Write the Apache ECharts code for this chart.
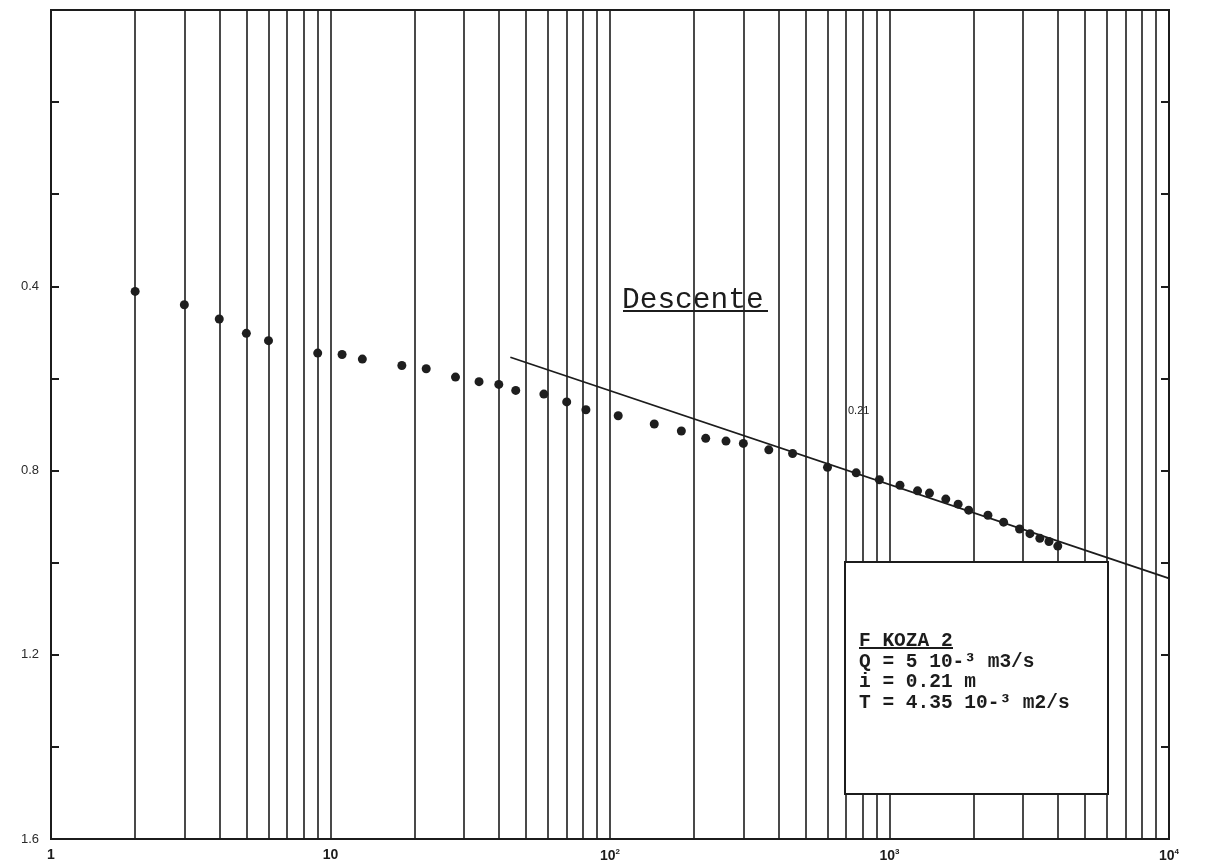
<!DOCTYPE html>
<html>
<head>
<meta charset="utf-8">
<title>Descente - F KOZA 2</title>
<script src="https://cdn.jsdelivr.net/npm/echarts@6/dist/echarts.min.js"></script>
<style>
  html, body { margin: 0; padding: 0; background: #fff; }
  #chart { width: 1208px; height: 868px; }
</style>
</head>
<body>
<div id="chart"></div>
<script>
// temps (abscisse log) et rabattements (m)
var times = [2, 3, 4, 5, 6, 9, 11, 13, 18, 22, 28, 34, 40, 46, 58, 70, 82,
  107, 144, 180, 220, 260, 300, 370, 450, 600, 760, 920,
  1090, 1260, 1390, 1590, 1760, 1920, 2250, 2560, 2920, 3180, 3450, 3720, 4000]
var drawdown = [0.411, 0.440, 0.471, 0.502, 0.518, 0.545, 0.548, 0.558, 0.572, 0.579, 0.597, 0.607, 0.613, 0.626, 0.634, 0.651, 0.668,
  0.681, 0.699, 0.714, 0.730, 0.736, 0.741, 0.755, 0.763, 0.793, 0.805, 0.820,
  0.832, 0.844, 0.849, 0.862, 0.873, 0.886, 0.897, 0.912, 0.927, 0.937, 0.947, 0.954, 0.964]

// droite de Jacob
var fitX = [44, 10000]
var fitY = [0.554, 1.034]

// graduations
var decades = [1, 10, 100, 1000]
var minorSteps = [2, 3, 4, 5, 6, 7, 8, 9]
var xTickLabels = { 1: '{n|1}', 10: '{n|10}', 100: '{n|10}{s|2}', 1000: '{n|10}{s|3}', 10000: '{n|10}{s|4}' }
var yTickLabels = ['0.4', '0.8', '1.2', '1.6']

var ink = '#1c1c1c'

var points = times.map(function(t, i) { return [t, drawdown[i]] })
var fitLine = fitX.map(function(x, i) { return [x, fitY[i]] })

var vLines = []
decades.forEach(function(d) {
  if (d > 1) vLines.push({ xAxis: d })
  minorSteps.forEach(function(m) { vLines.push({ xAxis: d * m }) })
})

var chart = echarts.init(document.getElementById('chart'))

var yAxisBase = {
  type: 'value',
  min: -0.2,
  max: 1.6,
  interval: 0.2,
  inverse: true,
  splitLine: { show: false },
  axisLine: { show: true, lineStyle: { color: ink, width: 2 } },
  axisTick: { show: true, inside: true, length: 8, lineStyle: { color: ink, width: 2 } }
}

var option = {
  backgroundColor: '#fff',
  animation: false,
  grid: {
    left: 51, right: 39, top: 10, bottom: 29,
    show: true, borderColor: ink, borderWidth: 2, backgroundColor: 'transparent'
  },
  xAxis: {
    type: 'log',
    logBase: 10,
    min: 1,
    max: 10000,
    splitNumber: 4,
    axisLine: { show: true, onZero: false, lineStyle: { color: ink, width: 2 } },
    axisTick: { show: false },
    splitLine: { show: false },
    axisLabel: {
      margin: 9,
      formatter: function(v) {
        var k = Math.round(v)
        return xTickLabels[k] || ''
      },
      rich: {
        n: { fontFamily: 'Liberation Sans', fontSize: 14, fontWeight: 'bold', color: ink },
        s: { fontFamily: 'Liberation Sans', fontSize: 8, fontWeight: 'bold', color: ink, verticalAlign: 'top', padding: [0, 0, 8, 0] }
      }
    }
  },
  yAxis: [
    Object.assign({}, yAxisBase, {
      position: 'left',
      axisLabel: {
        margin: 12,
        fontFamily: 'Liberation Sans',
        fontSize: 13,
        color: '#2a2a2a',
        formatter: function(v) {
          var s = v.toFixed(1)
          return yTickLabels.indexOf(s) >= 0 ? s : ''
        }
      }
    }),
    Object.assign({}, yAxisBase, {
      position: 'right',
      axisLabel: { show: false }
    })
  ],
  series: [
    {
      // lignes verticales du papier semi-log
      type: 'line',
      data: [],
      z: 1,
      silent: true,
      markLine: {
        silent: true,
        symbol: ['none', 'none'],
        label: { show: false },
        lineStyle: { color: ink, width: 1.6, type: 'solid', opacity: 1 },
        data: vLines
      }
    },
    {
      type: 'line',
      data: fitLine,
      z: 3,
      symbol: 'none',
      silent: true,
      lineStyle: { color: ink, width: 1.8 }
    },
    {
      type: 'scatter',
      data: points,
      z: 4,
      symbol: 'circle',
      symbolSize: 9,
      itemStyle: { color: '#1e1e1e', opacity: 1 }
    }
  ],
  graphic: [
    {
      type: 'text', left: 622, top: 285, z: 10,
      style: { text: 'Descente', fontFamily: 'Liberation Mono', fontSize: 29.5, fill: ink }
    },
    {
      type: 'line', z: 10,
      shape: { x1: 623, y1: 311, x2: 768, y2: 311 },
      style: { stroke: ink, lineWidth: 2 }
    },
    {
      type: 'text', left: 848, top: 405, z: 10,
      style: { text: '0.21', fontFamily: 'Liberation Sans', fontSize: 11, fill: ink }
    },
    {
      type: 'rect', z: 10,
      shape: { x: 845, y: 562, width: 263, height: 232 },
      style: { fill: '#fff', stroke: ink, lineWidth: 2 }
    },
    {
      type: 'text', left: 859, top: 631, z: 11,
      style: {
        text: 'F KOZA 2\nQ = 5 10-³ m3/s\ni = 0.21 m\nT = 4.35 10-³ m2/s',
        fontFamily: 'Liberation Mono', fontSize: 19.5, fontWeight: 'bold',
        lineHeight: 20.5, fill: ink
      }
    },
    {
      type: 'line', z: 11,
      shape: { x1: 859, y1: 648, x2: 953, y2: 648 },
      style: { stroke: ink, lineWidth: 2 }
    }
  ]
}

chart.setOption(option)
</script>
</body>
</html>
